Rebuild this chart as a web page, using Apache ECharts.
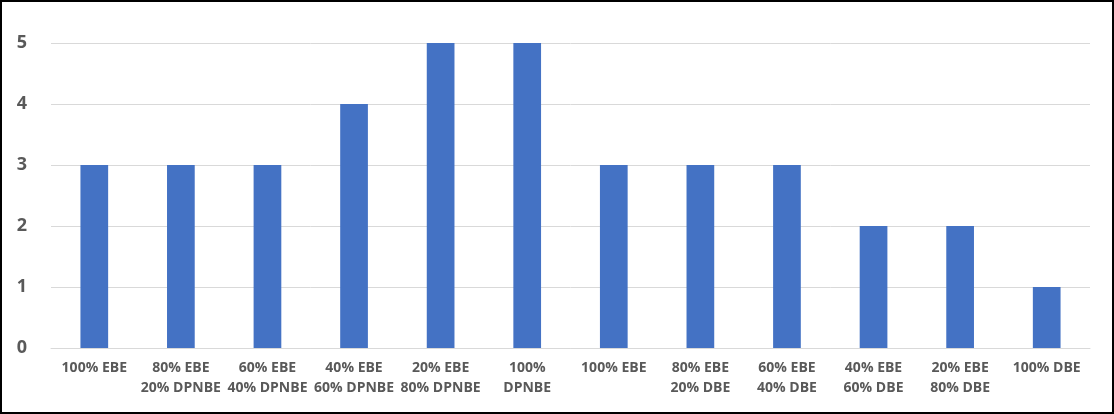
<!DOCTYPE html>
<html>
<head>
<meta charset="utf-8">
<script src="https://cdn.jsdelivr.net/npm/echarts@6/dist/echarts.min.js"></script>
<style>
html,body{margin:0;padding:0;background:#fff;}
#frame{position:absolute;left:0;top:0;width:1110px;height:410px;border:2px solid #000;}
#chart{position:absolute;left:0;top:0;width:1110px;height:410px;}
</style>
</head>
<body>
<div id="frame"><div id="chart"></div></div>
<script>
const categories = [
  "100% EBE",
  "80% EBE\n20% DPNBE",
  "60% EBE\n40% DPNBE",
  "40% EBE\n60% DPNBE",
  "20% EBE\n80% DPNBE",
  "100%\nDPNBE",
  "100% EBE",
  "80% EBE\n20% DBE",
  "60% EBE\n40% DBE",
  "40% EBE\n60% DBE",
  "20% EBE\n80% DBE",
  "100% DBE"
];
const values = [3, 3, 3, 4, 5, 5, 3, 3, 3, 2, 2, 1];
const yTicks = [0, 1, 2, 3, 4, 5];

const chart = echarts.init(document.getElementById('chart'), null, {renderer: 'canvas'});
chart.setOption({
  animation: false,
  grid: {left: 49, right: 22, top: 41, bottom: 64},
  xAxis: {
    type: 'category',
    data: categories,
    axisLine: {lineStyle: {color: '#d9d9d9', width: 1}},
    axisTick: {show: false},
    axisLabel: {
      interval: 0,
      color: '#595959',
      fontWeight: 'bold',
      fontSize: 14,
      fontFamily: 'Open Sans',
      lineHeight: 20,
      margin: 10
    }
  },
  yAxis: {
    type: 'value',
    min: yTicks[0],
    max: yTicks[yTicks.length - 1],
    interval: 1,
    axisLine: {show: false},
    axisTick: {show: false},
    splitLine: {lineStyle: {color: '#d9d9d9', width: 1}},
    axisLabel: {
      color: '#595959',
      fontWeight: 'bold',
      fontSize: 18,
      fontFamily: 'Open Sans',
      margin: 24
    }
  },
  series: [{
    type: 'bar',
    data: values,
    barWidth: '32%',
    itemStyle: {color: '#4472C4'}
  }]
});
</script>
</body>
</html>
